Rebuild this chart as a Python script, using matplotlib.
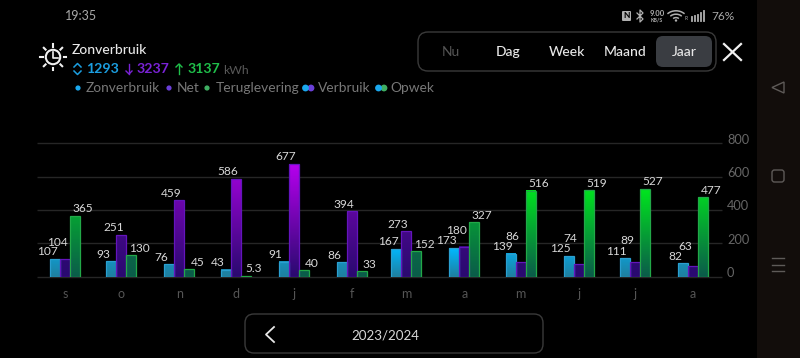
import numpy as np
import matplotlib
matplotlib.use('Agg')
import matplotlib.dates as mdates
from datetime import date
from matplotlib import pyplot as plt
from matplotlib.colors import LinearSegmentedColormap
from matplotlib.patches import Circle, FancyBboxPatch, Polygon, Rectangle, Arc

plt.rcParams['font.family'] = ['Lato', 'DejaVu Sans']

W, H = 800, 358

months = [date(2023, 9, 1), date(2023, 10, 1), date(2023, 11, 1), date(2023, 12, 1),
          date(2024, 1, 1), date(2024, 2, 1), date(2024, 3, 1), date(2024, 4, 1),
          date(2024, 5, 1), date(2024, 6, 1), date(2024, 7, 1), date(2024, 8, 1)]
month_labels = ['s', 'o', 'n', 'd', 'j', 'f', 'm', 'a', 'm', 'j', 'j', 'a']
zonverbruik = [107, 93, 76, 43, 91, 86, 167, 173, 139, 125, 111, 82]
net = [104, 251, 459, 586, 677, 394, 273, 180, 86, 74, 89, 63]
teruglevering = [365, 130, 45, 5.3, 40, 33, 152, 327, 516, 519, 527, 477]
y_ticks = [0, 200, 400, 600, 800]

BG = '#000000'
STRIP = '#120d0b'
GRID = '#262626'
TICK = '#666666'
BLUE, PURPLE, GREEN = '#1b9ee0', '#7a22d6', '#1fbf4a'

fig = plt.figure(figsize=(W / 100, H / 100), dpi=100, facecolor=BG)


def px_axes(x0, y0, x1, y1):
    # Axes given in picture pixels, y counted from the top
    return fig.add_axes([x0 / W, 1 - y1 / H, (x1 - x0) / W, (y1 - y0) / H])


# Chart: 200 kWh is 33.3 px, one day is 628/335 px
ax = px_axes(37, 143.3, 722, 276.7)
ax.set_facecolor(BG)
day_px = 628 / 335
x_num = mdates.date2num(months)
bar_w = 10 / day_px

series = [
    (zonverbruik, -10, '#1f7f9f', '#00b8ff', '#2a9fd0', -8),
    (net, 0, '#2a0a70', '#b400ec', '#6414bc', -8),
    (teruglevering, 10, '#0b5c4a', '#00e41e', '#22a848', 8),
]

# Labels the chart pushes up to avoid overlap (series index, month index): px above bar
lifted = {(1, 0): 17, (1, 7): 16, (1, 8): 26, (1, 9): 26, (1, 10): 21, (1, 11): 20}

for s, (values, offset, dark, bright, edge, label_dx) in enumerate(series):
    cmap = LinearSegmentedColormap.from_list('g', [dark, bright])
    top = max(values)
    for m, (x, v) in enumerate(zip(x_num, values)):
        cx = x + offset / day_px
        grad = np.linspace((v / top) ** 1.9, 0, 32).reshape(-1, 1)
        ax.imshow(grad, extent=(cx - bar_w / 2, cx + bar_w / 2, 0, v), aspect='auto',
                  cmap=cmap, vmin=0, vmax=1, zorder=2, interpolation='bilinear')
        lift = lifted.get((s, m), 7)
        ax.annotate(f'{v:g}', (cx, v), xytext=(label_dx * 0.72, lift * 0.72),
                    textcoords='offset points', ha='center', va='center',
                    color='#d8d8d8', fontsize=8.6, zorder=4)
    ax.bar(x_num + offset / day_px, values, width=bar_w, facecolor='none',
           edgecolor=edge, linewidth=0.9, zorder=3)

x_left = x_num[0] - 28 / day_px
x_right = x_num[0] + (722 - 65) / day_px
ax.set_xlim(x_left, x_right)
ax.set_ylim(0, 800)
ax.set_xticks(x_num, month_labels)
ax.set_yticks([])
ax.tick_params(axis='x', length=0, pad=8, labelsize=9, labelcolor='#555555')
# Grid and scale labels; the labels sit right of the lines, a little above them
ax.hlines(y_ticks, x_left, x_right, color=GRID, linewidth=1, zorder=1, clip_on=False)
for t in y_ticks:
    ax.annotate(str(t), (x_right, t), xytext=(5 * 0.72, 3.5 * 0.72), textcoords='offset points',
                color=TICK, fontsize=9.2, ha='left', va='center', annotation_clip=False)
for sp in ax.spines.values():
    sp.set_visible(False)

# Everything around the chart is drawn in picture pixels
ui = fig.add_axes([0, 0, 1, 1], facecolor='none')
ui.set_xlim(0, W)
ui.set_ylim(H, 0)
ui.axis('off')


def label(x, y, text, color='#d8d8d8', size=9, ha='left', weight='normal'):
    ui.text(x, y, text, color=color, fontsize=size, ha=ha, va='center', fontweight=weight)


def rounded(x0, y0, x1, y1, r, **kw):
    ui.add_patch(FancyBboxPatch((x0 + r, y0 + r), x1 - x0 - 2 * r, y1 - y0 - 2 * r,
                                boxstyle=f'round,pad={r},rounding_size={r}', **kw))


def arrow(x, y, color, up):
    d = -1 if up else 1
    ui.plot([x, x], [y - 5 * d, y + 5 * d], color=color, lw=1)
    ui.plot([x - 3, x, x + 3], [y + 2 * d, y + 5 * d, y + 2 * d], color=color, lw=1)


def dot(x, y, color, r=2.6):
    ui.add_patch(Circle((x, y), r, color=color, lw=0))


# Right navigation strip
ui.add_patch(Rectangle((757, 0), 43, H, color=STRIP, lw=0))
ui.add_patch(Polygon([(784, 82), (784, 93), (772, 87.5)], closed=True, fill=False,
                     edgecolor='#5e5a58', lw=1))
rounded(772, 170, 784, 182, 2.5, fill=False, edgecolor='#5e5a58', lw=1)
for yy in [258, 265, 271]:
    ui.plot([772, 784], [yy, yy], color='#5e5a58', lw=1)

# Status bar
label(65, 16, '19:35', color='#a8a8a8', size=9)
rounded(622, 11, 631, 21, 1, facecolor='#b0b0b0', edgecolor='none')
label(626.5, 16, 'N', color='#000000', size=6, ha='center', weight='bold')
ui.plot([637, 643, 640, 640, 643, 637], [13, 19, 22, 10, 13, 19], color='#b0b0b0', lw=0.9)
label(657, 13, '9.00', color='#b0b0b0', size=5.5, ha='center', weight='bold')
label(657, 20, 'KB/S', color='#b0b0b0', size=3.8, ha='center', weight='bold')
for r in [4, 8, 12]:
    ui.add_patch(Arc((676, 21), 2 * r, 2 * r * 0.85, theta1=220, theta2=320,
                     edgecolor='#b0b0b0', lw=1.1))
dot(676, 20.5, '#b0b0b0', 1.2)
label(686, 18, 'R', color='#b0b0b0', size=3.5, ha='center')
for xx, top_y in zip([692, 695, 698, 701, 704], [17, 16, 15, 13, 11]):
    ui.plot([xx, xx], [top_y, 21], color='#b0b0b0', lw=1.3)
label(711, 16, '76%', color='#a8a8a8', size=8.6)

# Sun with clock
ui.add_patch(Circle((53, 57), 7.2, fill=False, edgecolor='#f0f0f0', lw=1.5))
ui.plot([53, 53, 58], [52, 57.5, 57.5], color='#f0f0f0', lw=1.2)
for a in np.deg2rad([-90, -45, 0, 45, 90, 135, 180, 225]):
    ui.plot([53 + 10.5 * np.cos(a), 53 + 13 * np.cos(a)],
            [57 + 10.5 * np.sin(a), 57 + 13 * np.sin(a)], color='#f0f0f0', lw=1.5)

# Header
label(72, 50, 'Zonverbruik', color='#e8e8e8', size=10, weight='medium')
ui.plot([74, 77.5, 81], [67, 63.5, 67], color=BLUE, lw=1.1)
ui.plot([74, 77.5, 81], [71, 74.5, 71], color=BLUE, lw=1.1)
label(86, 69, '1293', color=BLUE, size=10.2, weight='bold')
arrow(129, 69, PURPLE, False)
label(137, 69, '3237', color=PURPLE, size=10.2, weight='bold')
arrow(179, 69, GREEN, True)
label(188, 69, '3137', color=GREEN, size=10.2, weight='bold')
label(223, 70, 'kWh', color='#585858', size=8.8)

# Legend
LEG = '#787878'
dot(78, 88, '#1aa8ee')
label(86, 88, 'Zonverbruik', color=LEG, size=9.9)
dot(169, 88, '#6a3fd8')
label(177, 88, 'Net', color=LEG, size=9.9)
dot(207, 88, '#3fae62')
label(216, 88, 'Teruglevering', color=LEG, size=9.9)
dot(311, 88, '#6a3fd8', 3.4)
dot(305.5, 88, '#1aa8ee', 3.4)
label(318, 88, 'Verbruik', color=LEG, size=9.9)
dot(384, 88, '#3fae62', 3.4)
dot(378.5, 88, '#1aa8ee', 3.4)
label(390, 88, 'Opwek', color=LEG, size=9.9)

# Period selector
rounded(418, 32, 716, 71, 10, fill=False, edgecolor='#3a3a3a', lw=1)
rounded(656, 36, 712, 67, 7, facecolor='#3a3d42', edgecolor='none')
label(450.5, 52, 'Nu', color='#555555', size=10, ha='center')
label(508, 52, 'Dag', color='#e8e8e8', size=10, ha='center', weight='medium')
label(567, 52, 'Week', color='#e8e8e8', size=10, ha='center', weight='medium')
label(625, 52, 'Maand', color='#e8e8e8', size=10, ha='center', weight='medium')
label(684, 52, 'Jaar', color='#e8e8e8', size=10, ha='center', weight='medium')
ui.plot([724, 741], [44, 60], color='#f0f0f0', lw=1.6)
ui.plot([724, 741], [60, 44], color='#f0f0f0', lw=1.6)

# Year navigation
rounded(245, 314, 543, 353, 9, fill=False, edgecolor='#3a3a3a', lw=1)
ui.plot([274, 266, 274], [327, 334.5, 342], color='#e8e8e8', lw=1.3)
label(385, 335, '2023/2024', color='#d8d8d8', size=9.6, ha='center')

fig.savefig('out.png', dpi=100, facecolor=BG)
